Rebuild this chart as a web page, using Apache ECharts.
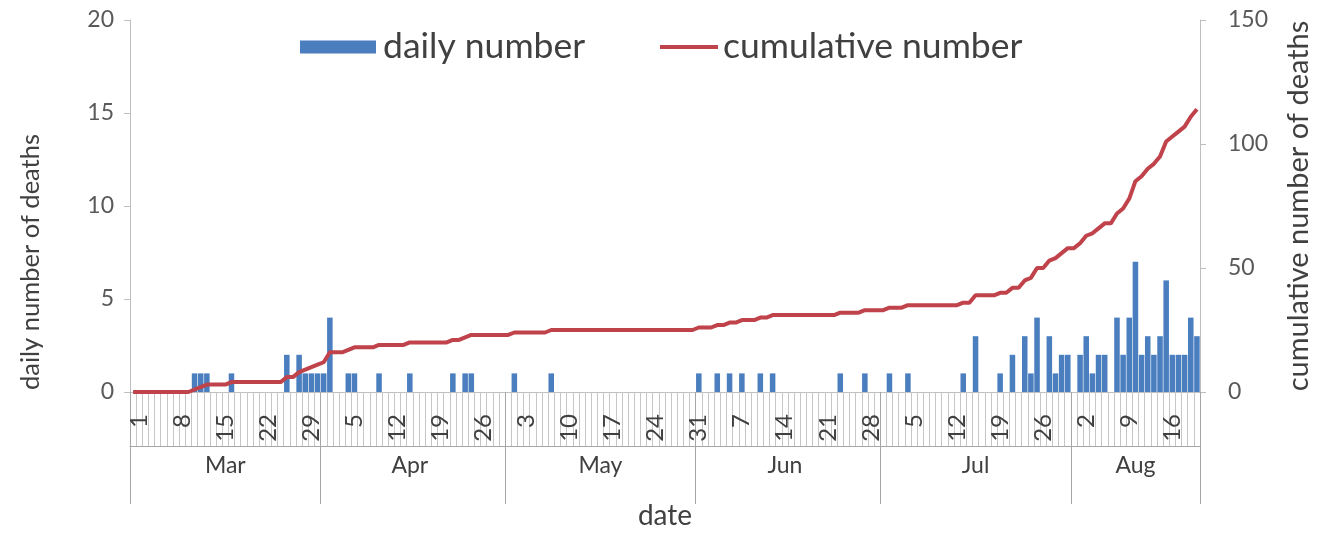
<!DOCTYPE html>
<html><head><meta charset="utf-8">
<script src="https://cdn.jsdelivr.net/npm/echarts@6/dist/echarts.min.js"></script>
<style>html,body{margin:0;padding:0;background:#fff}#c{width:1321px;height:535px}</style>
</head><body><div id="c"></div>
<script>
// ---- data ----
const months = ['Mar', 'Apr', 'May', 'Jun', 'Jul', 'Aug'];
const monthDays = [31, 30, 31, 30, 31, 21];

const dailyMar = [0,0,0,0,0,0,0,0,0,0, 1,1,1,0,0,0,1,0,0,0, 0,0,0,0,0,2,0,2,1,1,1];
const dailyApr = [1,4,0,0,1,1,0,0,0,1, 0,0,0,0,1,0,0,0,0,0, 0,1,0,1,1,0,0,0,0,0];
const dailyMay = [0,1,0,0,0,0,0,1,0,0, 0,0,0,0,0,0,0,0,0,0, 0,0,0,0,0,0,0,0,0,0,0];
const dailyJun = [1,0,0,1,0,1,0,1,0,0, 1,0,1,0,0,0,0,0,0,0, 0,0,0,1,0,0,0,1,0,0];
const dailyJul = [0,1,0,0,1,0,0,0,0,0, 0,0,0,1,0,3,0,0,0,1, 0,2,0,3,1,4,0,3,1,2,2];
const dailyAug = [0,2,3,1,2,2,0,4,2,4, 7,2,3,2,3,6,2,2,2,4,3];

const cumMar = [0,0,0,0,0,0,0,0,0,0, 1,2,3,3,3,3,4,4,4,4, 4,4,4,4,4,6,6,8,9,10,11];
const cumApr = [12,16,16,16,17,18,18,18,18,19, 19,19,19,19,20,20,20,20,20,20, 20,21,21,22,23,23,23,23,23,23];
const cumMay = [23,24,24,24,24,24,24,25,25,25, 25,25,25,25,25,25,25,25,25,25, 25,25,25,25,25,25,25,25,25,25,25];
const cumJun = [26,26,26,27,27,28,28,29,29,29, 30,30,31,31,31,31,31,31,31,31, 31,31,31,32,32,32,32,33,33,33];
const cumJul = [33,34,34,34,35,35,35,35,35,35, 35,35,35,36,36,39,39,39,39,40, 40,42,42,45,46,50,50,53,54,56,58];
const cumAug = [58,60,63,64,66,68,68,72,74,78, 85,87,90,92,95,101,103,105,107,111,114];

// ---- derived structures ----
const dayCats = [];
const monthStart = [];
const monthMid = [];
months.forEach((m, i) => {
  monthStart.push(dayCats.length);
  monthMid.push(dayCats.length + Math.floor((monthDays[i] - 1) / 2));
  for (let d = 1; d <= monthDays[i]; d++) dayCats.push(m + ' ' + d);
});
const daily = [].concat(dailyMar, dailyApr, dailyMay, dailyJun, dailyJul, dailyAug);
const cumulative = [].concat(cumMar, cumApr, cumMay, cumJun, cumJul, cumAug);

const FONT = 'Lato';
const TXT = '#404040';
const AX = '#bfbfbf';
const BLUE = '#4a7ebf';
const RED = '#c0424a';

const chart = echarts.init(document.getElementById('c'), null, {renderer: 'canvas'});
chart.setOption({
  animation: false,
  backgroundColor: '#ffffff',
  textStyle: {fontFamily: FONT},
  grid: {left: 130, right: 119, top: 20, bottom: 142},
  legend: [
    {data: [{name: 'daily number', icon: 'rect'}], left: 300, top: 29, padding: 0,
     itemWidth: 76, itemHeight: 13,
     textStyle: {fontSize: 35.5, color: TXT, fontFamily: FONT, padding: [0, 0, 0, 2]}},
    {data: [{name: 'cumulative number', icon: 'rect'}], left: 660, top: 29, padding: 0,
     itemWidth: 58, itemHeight: 4,
     textStyle: {fontSize: 35.5, color: TXT, fontFamily: FONT}}
  ],
  xAxis: [
    {type: 'category', data: dayCats, position: 'bottom', boundaryGap: true,
     axisLine: {lineStyle: {color: AX, width: 1}},
     axisTick: {show: true, interval: 0, length: 54, lineStyle: {color: '#c6c6c6'}},
     axisLabel: {interval: (i) => i % 7 === 0, rotate: 90, margin: 22, fontSize: 24, color: TXT,
                 verticalAlign: 'top', lineHeight: 12,
                 formatter: (v) => v.split(' ')[1]},
     splitLine: {show: false}},
    {type: 'category', data: dayCats, position: 'bottom', boundaryGap: true,
     axisLine: {show: false},
     axisTick: {show: true, interval: (i) => monthStart.indexOf(i) >= 0, length: 112, lineStyle: {color: '#a6a6a6'}},
     axisLabel: {interval: (i) => monthMid.indexOf(i) >= 0, margin: 62, fontSize: 23, color: TXT,
                 formatter: (v) => v.split(' ')[0]},
     name: 'date', nameLocation: 'middle', nameGap: 110,
     nameTextStyle: {fontSize: 28, color: TXT}},
    {type: 'category', data: dayCats, position: 'bottom', offset: 54, boundaryGap: true,
     axisLine: {lineStyle: {color: '#a6a6a6'}}, axisTick: {show: false}, axisLabel: {show: false}}
  ],
  yAxis: [
    {type: 'value', min: 0, max: 20, interval: 5, position: 'left',
     axisLine: {show: true, lineStyle: {color: AX}},
     axisTick: {show: true, length: 6, lineStyle: {color: AX}},
     splitLine: {show: false},
     axisLabel: {fontSize: 23, color: '#595959', margin: 16},
     name: 'daily number of deaths', nameLocation: 'middle', nameRotate: 90, nameGap: 86,
     nameTextStyle: {fontSize: 25.5, color: TXT, padding: [0, 112, 0, 0]}},
    {type: 'value', min: 0, max: 150, interval: 50, position: 'right',
     axisLine: {show: true, lineStyle: {color: AX}},
     axisTick: {show: true, length: 6, lineStyle: {color: AX}},
     splitLine: {show: false},
     axisLabel: {fontSize: 23, color: '#595959', margin: 28},
     name: 'cumulative number of deaths', nameLocation: 'middle', nameRotate: 90, nameGap: 84,
     nameTextStyle: {fontSize: 29, color: TXT}}
  ],
  series: [
    {type: 'bar', name: 'daily number', data: daily, xAxisIndex: 0, yAxisIndex: 0,
     barWidth: '90%', itemStyle: {color: BLUE}},
    {type: 'line', name: 'cumulative number', data: cumulative, xAxisIndex: 0, yAxisIndex: 1,
     symbol: 'none', smooth: false, lineStyle: {width: 4, color: RED}, itemStyle: {color: RED}}
  ]
});
</script>
</body></html>
